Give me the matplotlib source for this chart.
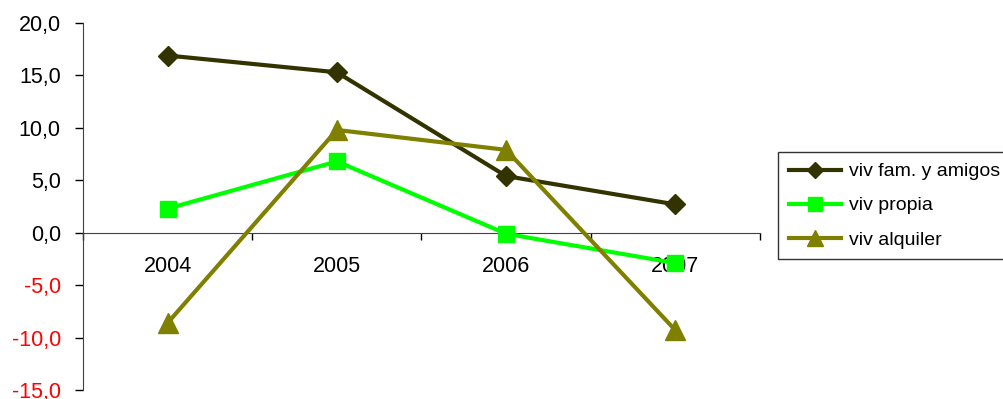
import matplotlib
matplotlib.use('Agg')
from matplotlib import pyplot as plt

plt.rcParams['font.family'] = ['Liberation Sans', 'DejaVu Sans']

years = ['2004', '2005', '2006', '2007']
fam_amigos = [16.9, 15.3, 5.4, 2.7]
propia = [2.3, 6.8, -0.1, -2.9]
alquiler = [-8.6, 9.8, 7.9, -9.3]
yticks = [-15, -10, -5, 0, 5, 10, 15, 20]

fig = plt.figure(figsize=(10.04, 3.99), dpi=100)
ax = fig.add_axes([83/1004, 1-390/399, (760-83)/1004, (390-23)/399])

x = [i + 0.5 for i in range(len(years))]
ax.plot(x, fam_amigos, color='#333300', lw=3, marker='D', ms=10, label='viv fam. y amigos', zorder=3)
ax.plot(x, propia, color='#00ff00', lw=3, marker='s', ms=12, label='viv propia', zorder=3)
ax.plot(x, alquiler, color='#808000', lw=3, marker='^', ms=14, label='viv alquiler', zorder=3)

ax.set_xlim(0, len(years))
ax.set_ylim(-15, 20)
ax.set_yticks(yticks)
ax.set_yticklabels([('%.1f' % v).replace('.', ',') for v in yticks])
ax.tick_params(axis='y', length=6, width=1, direction='out', pad=10, labelsize=15.5)
for lab, v in zip(ax.get_yticklabels(), yticks):
    lab.set_color('red' if v < 0 else 'black')

# category labels in the middle, ticks on the boundaries
ax.set_xticks(range(len(years) + 1))
ax.set_xticklabels([])
ax.set_xticks(x, minor=True)
ax.set_xticklabels(years, minor=True)
ax.tick_params(axis='x', which='minor', length=0, pad=17, labelsize=15.5)
ax.tick_params(axis='x', which='major', length=5, width=1, direction='out')

ax.spines['top'].set_visible(False)
ax.spines['right'].set_visible(False)
ax.spines['bottom'].set_position(('data', 0))
ax.spines['bottom'].set_color('#404040')
ax.spines['left'].set_color('#404040')

leg = fig.legend(loc='upper left', bbox_to_anchor=(778/1004, 1-258/399, 0.26, (258-152)/399),
                 mode='expand', fontsize=14, frameon=True, fancybox=False,
                 edgecolor='black', handlelength=2.7, handletextpad=0.4,
                 borderaxespad=0, borderpad=0.55, labelspacing=0.85, markerscale=0.85)
leg.get_frame().set_linewidth(1)

fig.savefig('out.png', dpi=100)
